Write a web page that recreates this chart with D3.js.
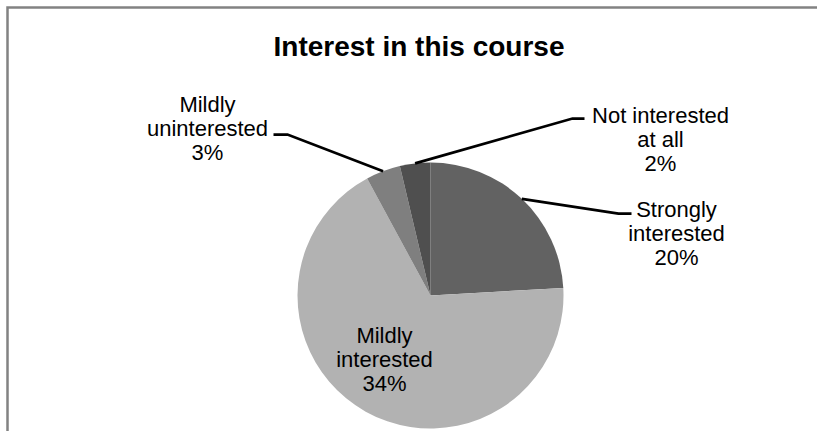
<!DOCTYPE html>
<html>
<head>
<meta charset="utf-8">
<script src="https://cdn.jsdelivr.net/npm/d3@7"></script>
<style>
  html, body { margin: 0; padding: 0; background: #fff; }
  svg { display: block; font-family: "Liberation Sans", Arial, sans-serif; }
</style>
</head>
<body>
<svg id="chart" width="817" height="431"></svg>
<script>
// slice categories, in drawing order (clockwise from 12 o'clock)
var categories = ["Strongly interested", "Mildly interested", "Mildly uninterested", "Not interested at all"];
// share of the circle each slice takes
var sliceShares = [24.1, 68.0, 4.2, 3.7];
// percentage text as printed on the chart
var pctLabels = ["20%", "34%", "3%", "2%"];
// label lines as they wrap
var labelLines = [["Strongly", "interested"], ["Mildly", "interested"], ["Mildly", "uninterested"], ["Not interested", "at all"]];
var sliceColors = ["#626262", "#b2b2b2", "#7f7f7f", "#4f4f4f"];

var svg = d3.select("#chart");
var width = 817, height = 431;

// frame (only top and left edges show)
svg.append("path")
    .attr("d", "M7.5,431 V7.5 H817")
    .attr("fill", "none")
    .attr("stroke", "#828282")
    .attr("stroke-width", 2.5);

svg.append("text")
    .attr("x", 419)
    .attr("y", 56)
    .attr("text-anchor", "middle")
    .style("font-size", "28px")
    .style("font-weight", "bold")
    .text("Interest in this course");

var cx = 430.5, cy = 295.5, radius = 133;
var g = svg.append("g").attr("transform", "translate(" + cx + "," + cy + ")");

var pie = d3.pie().sort(null).value(function(d){ return d; });
var arcs = pie(sliceShares);
var arc = d3.arc().innerRadius(0).outerRadius(radius);
var edgeArc = d3.arc().innerRadius(radius).outerRadius(radius);

g.selectAll("path.slice")
    .data(arcs)
    .enter().append("path")
    .attr("class", "slice")
    .attr("d", arc)
    .attr("fill", function(d, i){ return sliceColors[i]; });

// label placement relative to the pie centre; elbow = where the leader turns
var labelLayout = [
    { x: 246, y: -79, elbow: [188, -82], end: [201, -82] },
    { x: -46, y: 47, elbow: null },
    { x: -223, y: -184, elbow: [-143, -161], end: [-157, -161] },
    { x: 230, y: -173, elbow: [142, -177], end: [154, -177] }
];
var lineGap = 24;

arcs.forEach(function(d, i){
    var lay = labelLayout[i];
    if (lay.elbow){
        var c = edgeArc.centroid(d);
        g.append("path")
            .attr("d", d3.line()([c, lay.elbow, lay.end]))
            .attr("fill", "none")
            .attr("stroke", "#000")
            .attr("stroke-width", 2.75);
    }
    var t = g.append("text")
        .attr("text-anchor", "middle")
        .style("font-size", "22px")
        .attr("fill", "#000");
    var lines = labelLines[i].concat([pctLabels[i]]);
    lines.forEach(function(s, k){
        t.append("tspan")
            .attr("x", lay.x)
            .attr("y", lay.y + k * lineGap)
            .text(s);
    });
});
</script>
</body>
</html>
